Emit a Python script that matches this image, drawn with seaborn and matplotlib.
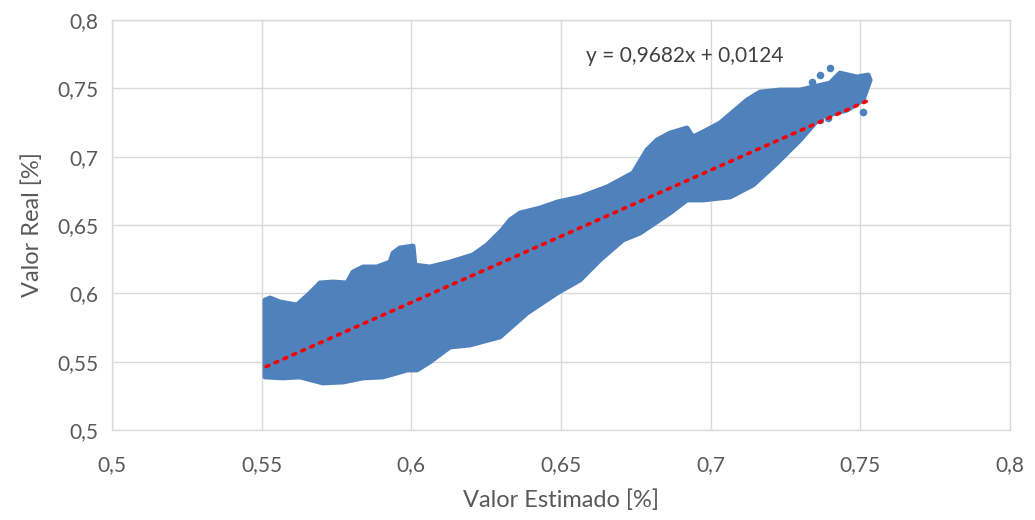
import numpy as np
import pandas as pd
import matplotlib
matplotlib.use('Agg')
import matplotlib.pyplot as plt
import seaborn as sns

# envelope of the point cloud
upper_x = [0.5511, 0.5528, 0.5561, 0.5618, 0.5662, 0.5695, 0.5738, 0.5785, 0.5805,
           0.5839, 0.5885, 0.5929, 0.5939, 0.5962, 0.6006, 0.6012, 0.6062, 0.6129,
           0.6206, 0.6253, 0.6303, 0.6330, 0.6363, 0.6430, 0.6487, 0.6564, 0.6654,
           0.6697, 0.6741, 0.6787, 0.6821, 0.6864, 0.6921, 0.6941, 0.6975, 0.7031,
           0.7122, 0.7165, 0.7232, 0.7299, 0.7399, 0.7432, 0.7489, 0.7526]
upper_y = [0.5951, 0.5966, 0.5937, 0.5915, 0.6002, 0.6076, 0.6083, 0.6076, 0.6156,
           0.6193, 0.6193, 0.6229, 0.6295, 0.6332, 0.6346, 0.6207, 0.6193, 0.6229,
           0.6281, 0.6354, 0.6463, 0.6537, 0.6588, 0.6624, 0.6668, 0.6705, 0.6778,
           0.6829, 0.6881, 0.7049, 0.7122, 0.7173, 0.7210, 0.7144, 0.7181, 0.7246,
           0.7415, 0.7473, 0.7488, 0.7488, 0.7539, 0.7612, 0.7583, 0.7598]
lower_x = [0.5511, 0.5571, 0.5628, 0.5705, 0.5772, 0.5839, 0.5905, 0.5952, 0.5986,
           0.6019, 0.6062, 0.6129, 0.6196, 0.6296, 0.6387, 0.6487, 0.6564, 0.6630,
           0.6707, 0.6764, 0.6864, 0.6921, 0.6975, 0.7065, 0.7142, 0.7222, 0.7299,
           0.7366, 0.7456, 0.7509, 0.7533]
lower_y = [0.5388, 0.5381, 0.5388, 0.5344, 0.5351, 0.5381, 0.5388, 0.5417, 0.5439,
           0.5439, 0.5498, 0.5607, 0.5622, 0.5681, 0.5856, 0.6002, 0.6098, 0.6244,
           0.6390, 0.6441, 0.6588, 0.6683, 0.6683, 0.6705, 0.6793, 0.6954, 0.7122,
           0.7290, 0.7341, 0.7415, 0.7561]

# isolated points near the top end
out_x = [0.7399, 0.7366, 0.7339, 0.7509, 0.7392, 0.7366]
out_y = [0.7649, 0.7598, 0.7546, 0.7327, 0.7283, 0.7270]

slope, intercept = 0.9682, 0.0124
trend_x = [0.5515, 0.7520]

ticks = [0.5, 0.55, 0.6, 0.65, 0.7, 0.75, 0.8]

blue = '#4F81BD'
grey = '#595959'

sns.set_style('white')
plt.rcParams['font.family'] = ['Lato', 'DejaVu Sans']

fig = plt.figure(figsize=(10.35, 5.2), dpi=100)
ax = fig.add_axes([0.1082, 0.1731, 0.8676, 0.7884])

# point cloud drawn as its outline polygon
poly_x = upper_x + lower_x[::-1]
poly_y = upper_y + lower_y[::-1]
ax.fill(poly_x, poly_y, color=blue, edgecolor=blue, linewidth=3.5,
        joinstyle='round', zorder=2)

pts = pd.DataFrame({'x': out_x, 'y': out_y})
sns.scatterplot(data=pts, x='x', y='y', color=blue, s=30, linewidth=0,
                ax=ax, zorder=3)

tx = np.array(trend_x)
sns.lineplot(x=tx, y=slope * tx + intercept, color='#FF0000', linewidth=2.6,
             linestyle=(0, (0.8, 1.9)), dash_capstyle='round', ax=ax, zorder=4)

ax.text(0.6914, 0.7735, 'y = 0,9682x + 0,0124', ha='center', va='center',
        fontsize=15, color='#404040')

ax.set_xlim(0.5, 0.8)
ax.set_ylim(0.5, 0.8)
ax.set_xticks(ticks)
ax.set_yticks(ticks)
ax.set_xticklabels([f'{t:g}'.replace('.', ',') for t in ticks])
ax.set_yticklabels([f'{t:g}'.replace('.', ',') for t in ticks])
ax.tick_params(length=0, labelsize=15, labelcolor=grey)
ax.tick_params(axis='x', pad=18)
ax.tick_params(axis='y', pad=10)
ax.grid(True, color='#D9D9D9', linewidth=1)
ax.set_axisbelow(True)
for s in ax.spines.values():
    s.set_color('#D9D9D9')
    s.set_linewidth(1)

ax.set_xlabel('Valor Estimado [%]', fontsize=17, color=grey, labelpad=10)
ax.set_ylabel('Valor Real [%]', fontsize=17, color=grey, labelpad=10)

fig.savefig('out.png', dpi=100)
